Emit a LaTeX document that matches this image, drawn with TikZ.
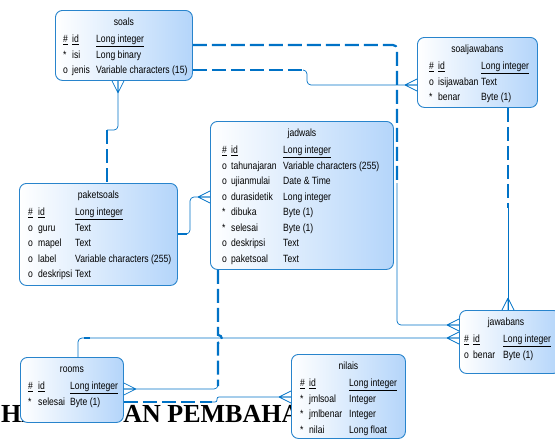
\documentclass[tikz,border=0pt]{standalone}
\usepackage{fontspec}
\setmainfont{Liberation Serif}
\newfontfamily\erfont[FakeStretch=0.82]{Liberation Sans}
\usetikzlibrary{calc}
\definecolor{erblue}{RGB}{0,114,198}
\definecolor{erline}{RGB}{40,132,204}
\definecolor{erfill}{RGB}{180,213,250}
\tikzset{
  tbl/.style={draw=erline,line width=0.9pt,rounded corners=7pt,left color=white,right color=erfill,anchor=north west,inner sep=0pt},
  ttl/.style={anchor=base,inner sep=0pt,font=\erfont\fontsize{10.5}{15.5}\selectfont},
  rows/.style={anchor=base west,inner sep=0pt,font=\erfont\fontsize{10.5}{15.5}\selectfont},
  heading/.style={anchor=base west,inner sep=0pt,font=\bfseries\fontsize{26}{30}\selectfont},
  link/.style={draw=erblue,line width=0.7pt,rounded corners=4pt},
  optlink/.style={draw=erblue,line width=2.2pt,dash pattern=on 14pt off 5pt,rounded corners=4pt},
  crow/.pic={\draw[link] (-12,0) -- (0,-6) (-12,0) -- (0,0) (-12,0) -- (0,6);}
}
\begin{document}
\begin{tikzpicture}[x=1pt,y=-1pt]
\useasboundingbox (0,0) rectangle (555,439);
% heading of the page, behind the diagram
\node[heading] (hasil) at (1,422) {HASIL\hspace{16pt} DAN PEMBAHASAN};

% tables
\node[tbl,minimum width=137pt,minimum height=70pt] (soals) at (55,10) {};
\node[tbl,minimum width=120pt,minimum height=70pt] (soaljawabans) at (417,37) {};
\node[tbl,minimum width=183pt,minimum height=148pt] (jadwals) at (210,121) {};
\node[tbl,minimum width=158pt,minimum height=102pt] (paketsoals) at (19,183) {};
\node[tbl,minimum width=103pt,minimum height=65pt] (rooms) at (20,357) {};
\node[tbl,minimum width=114pt,minimum height=84pt] (nilais) at (291,354) {};
\node[tbl,minimum width=101pt,minimum height=63pt] (jawabans) at (459,310) {};

% relations
\coordinate (a1) at (397,183);
\draw[optlink] ($(soals.north east)+(0,35)$) -| (a1);
\draw[link] (a1) |- ($(jawabans.north west)+(0,15)$);
\pic at ($(jawabans.north west)+(0,15)$) {crow};

\coordinate (b1) at (303,70);
\draw[optlink] ($(soals.north east)+(0,60)$) -- (b1);
\draw[link] (b1) -- ++(4,0) |- ($(soaljawabans.north west)+(0,48)$);
\pic at ($(soaljawabans.north west)+(0,48)$) {crow};

\coordinate (c1) at (508,208);
\draw[optlink] ($(soaljawabans.south west)+(91,0)$) -- (c1);
\draw[link] (c1) -- (c1 |- jawabans.north);
\pic[rotate=-90] at (c1 |- jawabans.north) {crow};

\coordinate (d1) at (107,130);
\draw[link] ($(soals.south west)+(63,0)$) |- (d1);
\draw[optlink] (d1) -- (d1 |- paketsoals.north);
\pic[rotate=90] at ($(soals.south west)+(63,0)$) {crow};

\coordinate (e1) at (187,234);
\draw[optlink] ($(paketsoals.north east)+(0,51)$) -- (e1);
\draw[link] (e1) -- ++(3,0) |- ($(jadwals.north west)+(0,76)$);
\pic at ($(jadwals.north west)+(0,76)$) {crow};

\coordinate (f1) at (218,386);
\draw[optlink,rounded corners=0pt] ($(jadwals.south west)+(8,0)$) -- ++(0,65)
  arc[start angle=-90,end angle=90,radius=4] -- (f1);
\draw[link] (f1) |- ($(rooms.north east)+(0,32)$);
\pic[rotate=180] at ($(rooms.north east)+(0,32)$) {crow};

\draw[link] ($(rooms.north west)+(58,0)$) |- ($(jawabans.north west)+(0,28)$);
\draw[optlink,dash pattern=on 0pt off 23pt on 6pt off 400pt] ($(rooms.north west)+(58,0)$) |- ($(jawabans.north west)+(0,28)$);
\pic at ($(jawabans.north west)+(0,28)$) {crow};

\coordinate (h1) at (212,402);
\draw[optlink] ($(rooms.north east)+(0,45)$) -- (h1);
\draw[link,rounded corners=2pt] (h1) -| ($(nilais.north west)+(-74,43)$) -- ($(nilais.north west)+(0,43)$);
\pic at ($(nilais.north west)+(0,43)$) {crow};

% titles and columns
\node[ttl] at ($(soals.north)+(0,15.5)$) {soals};
\node[rows] at ($(soals.north west)+(8,32.5)$) {\begin{tabular}[t]{@{}p{9pt}@{}p{24pt}@{}l@{}}
  \underline{\#} & \underline{id} & \underline{Long integer}\\
  {*} & isi & Long binary\\
  o & jenis & Variable characters (15)
\end{tabular}};

\node[ttl] at ($(soaljawabans.north)+(0,15.5)$) {soaljawabans};
\node[rows] at ($(soaljawabans.north west)+(12,32.5)$) {\begin{tabular}[t]{@{}p{9pt}@{}p{43pt}@{}l@{}}
  \underline{\#} & \underline{id} & \underline{Long integer}\\
  o & isijawaban & Text\\
  {*} & benar & Byte (1)
\end{tabular}};

\node[ttl] at ($(jadwals.north)+(0,15.5)$) {jadwals};
\node[rows] at ($(jadwals.north west)+(12,32.5)$) {\begin{tabular}[t]{@{}p{9pt}@{}p{52pt}@{}l@{}}
  \underline{\#} & \underline{id} & \underline{Long integer}\\
  o & tahunajaran & Variable characters (255)\\
  o & ujianmulai & Date \& Time\\
  o & durasidetik & Long integer\\
  {*} & dibuka & Byte (1)\\
  {*} & selesai & Byte (1)\\
  o & deskripsi & Text\\
  o & paketsoal & Text
\end{tabular}};

\node[ttl] at ($(paketsoals.north)+(0,15.5)$) {paketsoals};
\node[rows] at ($(paketsoals.north west)+(9,32.5)$) {\begin{tabular}[t]{@{}p{10pt}@{}p{37pt}@{}l@{}}
  \underline{\#} & \underline{id} & \underline{Long integer}\\
  o & guru & Text\\
  o & mapel & Text\\
  o & label & Variable characters (255)\\
  o & deskripsi & Text
\end{tabular}};

\node[ttl] at ($(rooms.north)+(0,15.5)$) {rooms};
\node[rows] at ($(rooms.north west)+(8,32.5)$) {\begin{tabular}[t]{@{}p{10pt}@{}p{32pt}@{}l@{}}
  \underline{\#} & \underline{id} & \underline{Long integer}\\
  {*} & selesai & Byte (1)
\end{tabular}};

\node[ttl] at ($(nilais.north)+(0,15.5)$) {nilais};
\node[rows] at ($(nilais.north west)+(9,32.5)$) {\begin{tabular}[t]{@{}p{9pt}@{}p{40pt}@{}l@{}}
  \underline{\#} & \underline{id} & \underline{Long integer}\\
  {*} & jmlsoal & Integer\\
  {*} & jmlbenar & Integer\\
  {*} & nilai & Long float
\end{tabular}};

\node[ttl] at ($(jawabans.north west)+(47,15.5)$) {jawabans};
\node[rows] at ($(jawabans.north west)+(5,32.5)$) {\begin{tabular}[t]{@{}p{9pt}@{}p{30pt}@{}l@{}}
  \underline{\#} & \underline{id} & \underline{Long integer}\\
  o & benar & Byte (1)
\end{tabular}};
\end{tikzpicture}
\end{document}
